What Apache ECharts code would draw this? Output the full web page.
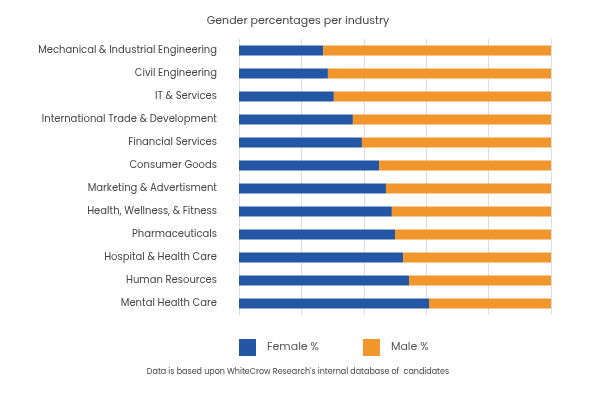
<!doctype html>
<html lang="en">
<head>
    <meta charset="utf-8">
    <title>Gender percentages per industry</title>
    <script src="https://cdn.jsdelivr.net/npm/echarts@6/dist/echarts.min.js"></script>
    <style>
        html, body { margin: 0; padding: 0; background: #fff; }
        #mychart { width: 596px; height: 401px; }
    </style>
</head>
<body>
    <div id="mychart"></div>
    <script type="text/javascript">
        var industries = ['Mechanical & Industrial Engineering', 'Civil Engineering', 'IT & Services',
            'International Trade & Development', 'Financial Services', 'Consumer Goods',
            'Marketing & Advertisment', 'Health, Wellness, & Fitness', 'Pharmaceuticals',
            'Hospital & Health Care', 'Human Resources', 'Mental Health Care'];
        var femalePct = [27, 28.5, 30.4, 36.5, 39.4, 44.9, 47.1, 49, 50, 52.6, 54.5, 60.9];
        var malePct = femalePct.map(function (v) { return +(100 - v).toFixed(1); });

        var myChart = echarts.init(document.getElementById('mychart'));
        var font = 'Poppins, "Open Sans", sans-serif';
        var option = {
            animation: false,
            title: {
                text: 'Gender percentages per industry',
                left: 'center',
                top: 11,
                textStyle: { color: '#444', fontSize: 11, fontWeight: 'normal', fontFamily: font }
            },
            legend: {
                left: 234,
                top: 334,
                itemWidth: 17,
                itemHeight: 17,
                itemGap: 44,
                icon: 'rect',
                textStyle: { color: '#555', fontSize: 11, fontFamily: font, padding: [0, 0, 0, 6] },
                data: ['Female %', 'Male %']
            },
            graphic: [{
                type: 'text',
                left: 'center',
                top: 368,
                style: {
                    text: "Data is based upon WhiteCrow Research's internal database of  candidates",
                    fill: '#444', fontSize: 8, fontFamily: font
                }
            }],
            color: ['#2456a6', '#f0962a'],
            grid: { left: 239, right: 45, top: 39, bottom: 86 },
            xAxis: {
                type: 'value',
                min: 0, max: 100, interval: 20,
                axisLabel: { show: false },
                axisLine: { show: false },
                axisTick: { show: false },
                splitLine: { lineStyle: { color: '#ddd' } }
            },
            yAxis: {
                type: 'category',
                inverse: true,
                data: industries,
                axisTick: { show: false },
                axisLine: { lineStyle: { color: '#ddd' } },
                axisLabel: { color: '#444', fontSize: 10, fontFamily: font, margin: 22 }
            },
            series: [
                { name: 'Female %', type: 'bar', stack: 'g', barWidth: 10, data: femalePct },
                { name: 'Male %', type: 'bar', stack: 'g', barWidth: 10, data: malePct }
            ]
        };
        myChart.setOption(option);
    </script>
</body>
</html>
